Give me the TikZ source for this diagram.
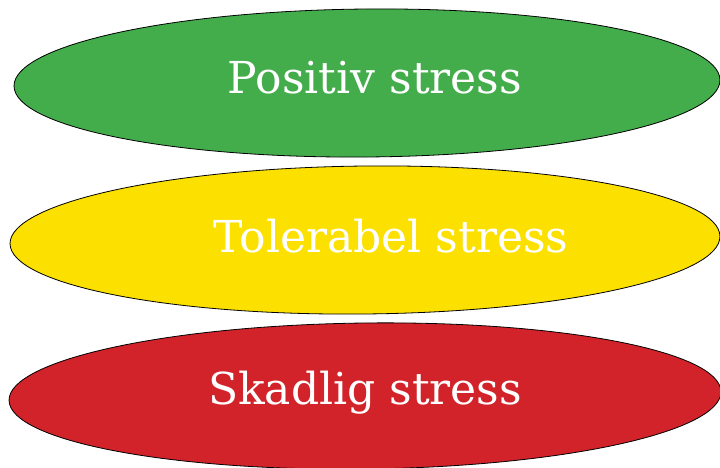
\documentclass[tikz,border=0pt]{standalone}
\usepackage{fontspec}
\setmainfont{DejaVu Serif}
\usepackage{tikz}

\definecolor{posgreen}{RGB}{67,173,76}
\definecolor{tolyellow}{RGB}{252,224,0}
\definecolor{skadred}{RGB}{210,35,42}

\begin{document}
\begin{tikzpicture}[x=1pt, y=-1pt,
        blob/.style={draw=black, line width=0.8pt},
        label/.style={text=white, font=\fontsize{44}{52}\selectfont}]
                    \useasboundingbox (0, 0) rectangle (720, 468);
                    \clip (0, 0) rectangle (720, 468);
                    \begin{scope}
                        \filldraw[blob, fill=posgreen, rotate around={0.5:(367, 83)}] (367, 83) ellipse (353 and 74);
                        \node[label] (positiv) at (375, 78) {Positiv stress};
                    \end{scope}
                    \begin{scope}
                        \filldraw[blob, fill=tolyellow, rotate around={0.6:(365, 240)}] (365, 240) ellipse (355 and 74);
                        \node[label] (tolerabel) at (391, 236) {Tolerabel stress};
                    \end{scope}
                    \begin{scope}
                        \filldraw[blob, fill=skadred, rotate around={0.7:(365, 396)}] (365, 396) ellipse (356 and 73);
                        \node[label] (skadlig) at (365, 393) {Skadlig stress};
                    \end{scope}
                \end{tikzpicture}
\end{document}
